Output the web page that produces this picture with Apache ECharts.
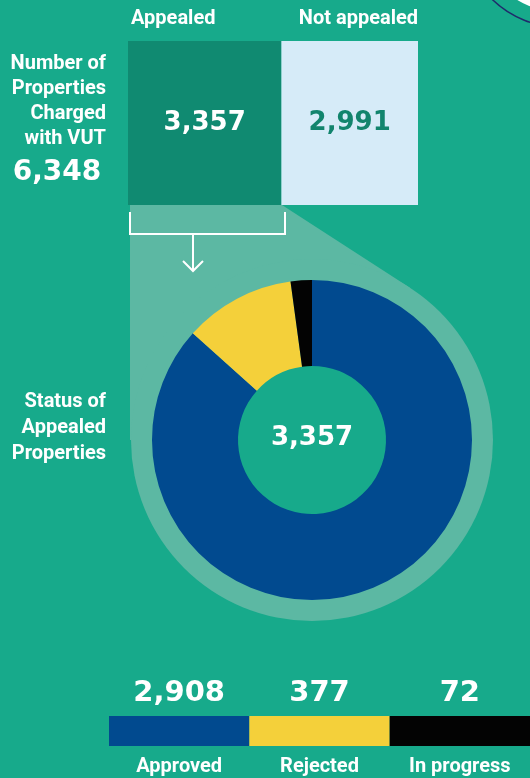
<!DOCTYPE html>
<html>
<head>
<meta charset="utf-8">
<script src="https://cdn.jsdelivr.net/npm/echarts@6/dist/echarts.min.js"></script>
<style>
  html, body { margin: 0; padding: 0; background: #17aa8b; }
  #chart { width: 530px; height: 778px; }
</style>
</head>
<body>
<div id="chart"></div>
<script>
// top split: properties charged with VUT
const chargedCategories = ["Appealed", "Not appealed"];
const chargedValues = [3357, 2991];
const chargedTotal = 6348;

// status of appealed properties
const statusNames = ["Approved", "Rejected", "In progress"];
const statusValues = [2908, 377, 72];
const appealedTotal = 3357;

const statusColors = ["#014a8f", "#f4d03a", "#030303"];
const TEAL = "#17aa8b";
const HALO = "#5cb8a3";
const LABEL_FONT = "Roboto, 'Open Sans', sans-serif";
const NUM_FONT = "'DejaVu Sans', Verdana, sans-serif";

const fmt = (v) => v.toLocaleString("en-US");

// halo geometry (funnel from the appealed box down to the donut)
const cx = 312, cy = 440, haloR = 181, holeR = 74;
const px = 282, py = 205;
const dx = cx - px, dy = cy - py;
const dist = Math.sqrt(dx * dx + dy * dy);
const tanLen = Math.sqrt(dist * dist - haloR * haloR);
const ang = Math.atan2(dy, dx) - Math.asin(haloR / dist);
const tx = px + tanLen * Math.cos(ang), ty = py + tanLen * Math.sin(ang);

const chart = echarts.init(document.getElementById("chart"));

const txt = (text, x, y, opts) => ({
  type: "text",
  z: 50,
  style: Object.assign({
    text: text, x: x, y: y,
    fill: "#fff",
    fontFamily: LABEL_FONT,
    fontWeight: "bold",
    fontSize: 20,
    textVerticalAlign: "middle"
  }, opts)
});

const option = {
  backgroundColor: TEAL,
  animation: false,
  grid: [
    { left: 128, top: 41, width: 290, height: 164 },
    { left: 109, top: 716, width: 423, height: 30 }
  ],
  xAxis: [
    { gridIndex: 0, type: "value", min: 0, max: chargedTotal, show: false },
    {
      gridIndex: 1, type: "category", data: statusNames,
      axisLine: { show: false }, axisTick: { show: false },
      axisLabel: { color: "#fff", fontFamily: LABEL_FONT, fontWeight: "bold", fontSize: 20, margin: 11 }
    }
  ],
  yAxis: [
    { gridIndex: 0, type: "category", data: ["VUT"], show: false },
    { gridIndex: 1, type: "value", min: 0, max: 1, show: false }
  ],
  series: [
    {
      name: chargedCategories[0], type: "bar", stack: "vut",
      xAxisIndex: 0, yAxisIndex: 0, barWidth: "100%",
      data: [chargedValues[0]],
      itemStyle: { color: "#108a71" },
      label: {
        show: true, position: "inside", formatter: (p) => fmt(p.value),
        color: "#fff", fontFamily: NUM_FONT, fontWeight: "bold", fontSize: 26
      }
    },
    {
      name: chargedCategories[1], type: "bar", stack: "vut",
      xAxisIndex: 0, yAxisIndex: 0, barWidth: "100%",
      data: [chargedValues[1]],
      itemStyle: { color: "#d6ebf8" },
      label: {
        show: true, position: "inside", formatter: (p) => fmt(p.value),
        color: "#12846d", fontFamily: NUM_FONT, fontWeight: "bold", fontSize: 26
      }
    },
    {
      name: "legend key", type: "bar",
      xAxisIndex: 1, yAxisIndex: 1, barWidth: "100%",
      data: statusNames.map((n, i) => ({ value: 1, itemStyle: { color: statusColors[i] } })),
      label: {
        show: true, position: "top", distance: 8,
        formatter: (p) => fmt(statusValues[p.dataIndex]),
        color: "#fff", fontFamily: NUM_FONT, fontWeight: "bold", fontSize: 29
      }
    },
    {
      name: "Status", type: "pie",
      center: [cx, cy], radius: [holeR, 160],
      startAngle: 90, clockwise: true,
      silent: true, z: 5,
      label: { show: false }, labelLine: { show: false },
      data: statusNames.map((n, i) => ({ name: n, value: statusValues[i], itemStyle: { color: statusColors[i] } }))
    }
  ],
  graphic: [
    // halo behind the donut
    {
      type: "polygon", z: -10,
      shape: { points: [[130, 205], [px, py], [tx, ty], [cx, cy], [130, cy]] },
      style: { fill: HALO }
    },
    { type: "circle", z: -10, shape: { cx: cx, cy: cy, r: haloR }, style: { fill: HALO } },
    { type: "circle", z: -9, shape: { cx: cx, cy: cy, r: holeR + 1 }, style: { fill: TEAL } },
    // bracket + arrow
    {
      type: "polyline", z: 20,
      shape: { points: [[130, 212], [130, 234], [285, 234], [285, 212]] },
      style: { stroke: "#fff", lineWidth: 2, fill: null }
    },
    {
      type: "polyline", z: 20,
      shape: { points: [[193, 234], [193, 271]] },
      style: { stroke: "#fff", lineWidth: 2, fill: null }
    },
    {
      type: "polyline", z: 20,
      shape: { points: [[183, 261], [193, 271], [203, 261]] },
      style: { stroke: "#fff", lineWidth: 2, fill: null }
    },
    // corner decoration
    { type: "circle", z: -5, shape: { cx: 560, cy: -70, r: 82 }, style: { fill: "#fff" } },
    { type: "circle", z: -5, shape: { cx: 560, cy: -70, r: 97 }, style: { fill: null, stroke: "#1f2b6b", lineWidth: 1.5 } },
    // texts
    txt(chargedCategories[0], 131, 19, { textAlign: "left" }),
    txt(chargedCategories[1], 418, 19, { textAlign: "right" }),
    txt("Number of\nProperties\nCharged\nwith VUT", 106, 101, { textAlign: "right", lineHeight: 25 }),
    txt(fmt(chargedTotal), 57, 173, { textAlign: "center", fontFamily: NUM_FONT, fontSize: 28 }),
    txt("Status of\nAppealed\nProperties", 106, 428, { textAlign: "right", lineHeight: 26 }),
    txt(fmt(appealedTotal), cx, 438, { textAlign: "center", fontFamily: NUM_FONT, fontSize: 26 })
  ]
};

chart.setOption(option);
</script>
</body>
</html>
